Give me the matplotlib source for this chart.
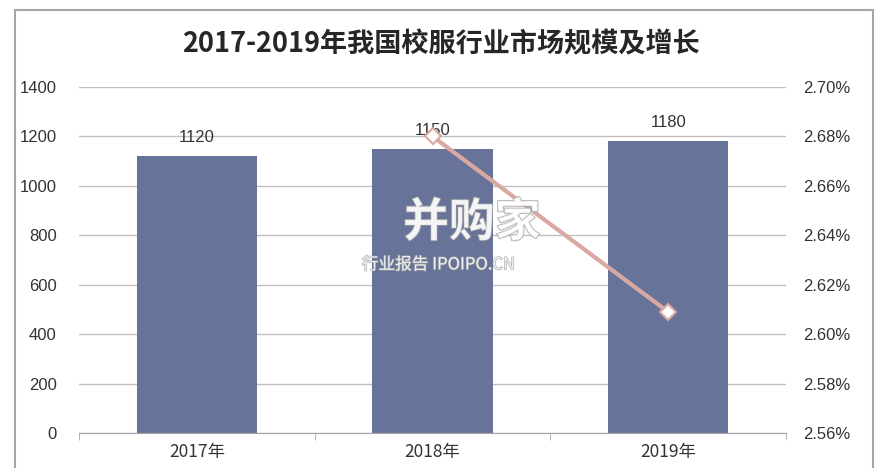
import matplotlib
matplotlib.use("Agg")
import matplotlib.pyplot as plt
from matplotlib.patches import Rectangle
from matplotlib.ticker import FixedLocator, FuncFormatter
import matplotlib.patheffects as pe

plt.rcParams['font.family'] = ['Liberation Sans', 'Noto Sans CJK SC', 'DejaVu Sans']

title = "2017-2019年我国校服行业市场规模及增长"
categories = ["2017年", "2018年", "2019年"]
market_size = [1120, 1150, 1180]
growth_years = [1, 2]            # indices of categories with growth values
growth_pct = [2.68, 2.609]

bar_color = "#68739A"
line_color = "#D9A8A2"
grid_color = "#BFBFBF"
text_color = "#333333"

fig = plt.figure(figsize=(8.82, 4.68), dpi=100)
fig.patch.set_facecolor("white")

# outer frame
fig.add_artist(Rectangle((0.017, -0.05), 0.973, 1.0286, transform=fig.transFigure,
                         fill=False, edgecolor="#A6A6A6", linewidth=1.5))

ax = fig.add_axes([0.0896, 0.0748, 0.8016, 0.7393])
x = list(range(len(categories)))
ax.bar(x, market_size, width=0.51, color=bar_color, zorder=2)
ax.set_xlim(-0.5, 2.5)
ax.set_ylim(0, 1400)
ax.set_yticks(range(0, 1401, 200))
ax.yaxis.grid(True, color=grid_color, linewidth=1.0, zorder=0)
ax.set_axisbelow(True)
for s in ["top", "right", "left"]:
    ax.spines[s].set_visible(False)
ax.spines["bottom"].set_color("#A6A6A6")
ax.tick_params(axis="y", length=0, labelsize=12, colors=text_color, pad=16)
ax.set_xticks(x)
ax.set_xticklabels(categories, fontsize=12.5, color=text_color,
                   family=['Noto Sans CJK SC', 'DejaVu Sans'])
ax.tick_params(axis="x", which="major", length=0, pad=7)
ax.xaxis.set_minor_locator(FixedLocator([-0.5, 0.5, 1.5, 2.5]))
ax.tick_params(axis="x", which="minor", length=5, color="#A6A6A6")

for xi, v in zip(x, market_size):
    ax.annotate(f"{v}", (xi, v), xytext=(0, 8), textcoords="offset points",
                ha="center", va="bottom", fontsize=12, color=text_color)

ax2 = ax.twinx()
ax2.set_ylim(2.56, 2.70)
ax2.set_yticks([2.56, 2.58, 2.60, 2.62, 2.64, 2.66, 2.68, 2.70])
ax2.yaxis.set_major_formatter(FuncFormatter(lambda v, p: f"{v:.2f}%"))
for s in ["top", "right", "left", "bottom"]:
    ax2.spines[s].set_visible(False)
ax2.tick_params(axis="y", length=0, labelsize=12, colors=text_color, pad=12)
ax2.plot(growth_years, growth_pct, color=line_color, linewidth=3,
         marker="D", markersize=8, markerfacecolor="white",
         markeredgecolor=line_color, markeredgewidth=1.5, zorder=5)

fig.text(0.5, 0.905, title, ha="center", va="center", fontsize=19.5,
         fontweight="bold", color="#262626",
         family=['Noto Sans CJK SC', 'DejaVu Sans'])

# watermark
stroke = [pe.withStroke(linewidth=1.2, foreground="#9A9A9A")]
fig.text(0.535, 0.523, "并购家", ha="center", va="center", fontsize=33,
         fontweight="bold", color="white", alpha=0.75,
         family=['Noto Sans CJK SC', 'DejaVu Sans'], zorder=10, path_effects=stroke)
fig.text(0.497, 0.434, "行业报告 IPOIPO.CN", ha="center", va="center", fontsize=12,
         color="white", alpha=0.8,
         family=['Noto Sans CJK SC', 'DejaVu Sans'], zorder=10,
         path_effects=[pe.withStroke(linewidth=1.0, foreground="#A0A0A0")])

fig.savefig("out.png", dpi=100)
